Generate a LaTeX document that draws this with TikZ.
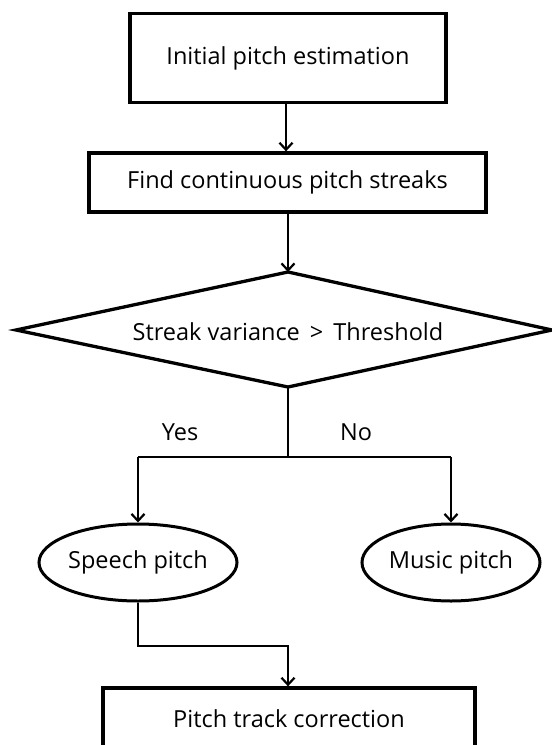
\documentclass[tikz,border=0pt]{standalone}
\usepackage{fontspec}
\setmainfont{Open Sans}
\usetikzlibrary{shapes.geometric,arrows.meta}
\begin{document}
\begin{tikzpicture}[x=1pt,y=-1pt,
  every node/.style={font=\fontsize{23.5}{28}\selectfont},
  box/.style={draw,line width=3.3pt,rectangle,inner sep=0pt},
  dline/.style={draw,line width=3.3pt,line join=miter},
  oval/.style={draw,line width=3pt,ellipse,inner sep=0pt},
  conn/.style={line width=2.2pt},
  arr/.style={conn,-{Straight Barb[length=7pt,width=13pt,line width=2.2pt]}},
  lbl/.style={inner sep=0pt}]
\clip (0,0) rectangle (552,745);
\useasboundingbox (0,0) rectangle (552,745);
\node[box,minimum width=316pt,minimum height=89pt] (b1) at (288,58) {Initial pitch estimation};
\node[box,minimum width=397pt,minimum height=59pt] (b2) at (287.5,182.5) {Find continuous pitch streaks};
\coordinate (dt) at (288,272);
\coordinate (dr) at (552,330);
\coordinate (db) at (288,387);
\coordinate (dl) at (16,330);
\draw[dline] (dt) -- (dr) -- (db) -- (dl) -- cycle;
\node[lbl] (dtext) at (288,332) {Streak variance \,>\, Threshold};
\node[lbl] (yes) at (180,432) {Yes};
\node[lbl] (no) at (356,432) {No};
\coordinate (j) at (288,457);
\coordinate (jl) at (138,457);
\coordinate (jr) at (451,457);
\node[oval,minimum width=198pt,minimum height=77pt] (e1) at (138,562.5) {Speech pitch};
\node[oval,minimum width=178pt,minimum height=77pt] (e2) at (451,562.5) {Music pitch};
\node[box,minimum width=372pt,minimum height=61pt] (b3) at (289,718.5) {Pitch track correction};
\coordinate (k1) at (138,646);
\coordinate (k2) at (288,646);
\draw[arr] (b1.south -| 286,0) -- (b2.north -| 286,0);
\draw[arr] (b2.south -| 288,0) -- (dt);
\draw[conn] (db) -- (j);
\draw[conn] (jl) -- (jr);
\draw[arr] (jl) -- (e1.north);
\draw[arr] (jr) -- (e2.north);
\draw[arr] (e1.south) -- (k1) -- (k2) -- (b3.north -| k2);
\end{tikzpicture}
\end{document}
